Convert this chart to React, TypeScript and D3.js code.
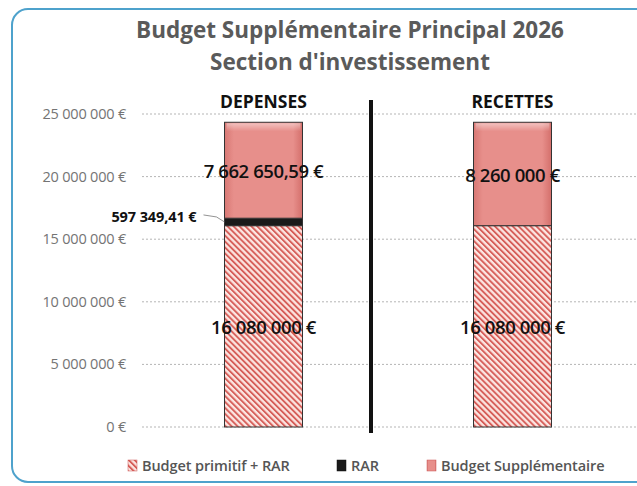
import React from "react";
import * as d3 from "d3";

const categories = ["DEPENSES", "RECETTES"];
const seriesNames = ["Budget primitif + RAR", "RAR", "Budget Supplémentaire"];
const budgetPrimitif = [16080000, 16080000];
const rar = [597349.41, 0];
const budgetSupp = [7662650.59, 8260000];
const valueLabels = [
  ["16 080 000 €", "597 349,41 €", "7 662 650,59 €"],
  ["16 080 000 €", "", "8 260 000 €"],
];
const yTicks = [0, 5000000, 10000000, 15000000, 20000000, 25000000];
const yTickLabels = ["0 €", "5 000 000 €", "10 000 000 €", "15 000 000 €", "20 000 000 €", "25 000 000 €"];
const titleLines = ["Budget Supplémentaire Principal 2026", "Section d'investissement"];

const W = 637;
const H = 486;
const FONT = "'Open Sans', 'DejaVu Sans', sans-serif";

export default function App() {
  const y = d3.scaleLinear().domain([0, 25000000]).range([427, 114]);
  const x = d3.scaleBand().domain(categories).range([139, 637]).padding(0);
  const barW = 78;
  const seriesData = [budgetPrimitif, rar, budgetSupp];

  const stacked = categories.map((c, i) => {
    let acc = 0;
    return seriesData.map((s, k) => {
      const y0 = acc;
      acc += s[i];
      return { k, y0, y1: acc, v: s[i] };
    });
  });

  const fills = ["url(#hatch)", "#1a1a1a", "url(#bsGrad)"];
  const legendX = [128, 337, 427];

  return (
    <svg width={W} height={H} style={{ position: "absolute", left: 0, top: 0, background: "#fff" }}>
      <defs>
        <pattern id="hatch" patternUnits="userSpaceOnUse" width="4.2" height="4.2" patternTransform="rotate(-45)">
          <rect width="4.2" height="4.2" fill="#fce6e2" />
          <rect width="1.9" height="4.2" fill="#d65e59" />
        </pattern>
        <linearGradient id="bsGrad" x1="0" y1="0" x2="1" y2="0">
          <stop offset="0" stopColor="#d87874" />
          <stop offset="0.12" stopColor="#e78f8b" />
          <stop offset="0.88" stopColor="#e78f8b" />
          <stop offset="1" stopColor="#d46f6b" />
        </linearGradient>
        <linearGradient id="bsTop" x1="0" y1="0" x2="0" y2="1">
          <stop offset="0" stopColor="#fff" stopOpacity="0.45" />
          <stop offset="1" stopColor="#fff" stopOpacity="0" />
        </linearGradient>
      </defs>
      <rect x={1} y={1} width={W - 2} height={H - 2} fill="#fff" />
      <rect x={12} y={9} width={W + 20} height={473} rx={16} ry={16} fill="none" stroke="#4ea2cc" strokeWidth={2} />

      {titleLines.map((t, i) => (
        <text key={t} x={350} y={38 + i * 32} textAnchor="middle" fontFamily={FONT} fontWeight={700} fontSize={22.5} fill="#5a5a5a">
          {t}
        </text>
      ))}

      {yTicks.map((t, i) => (
        <g key={t}>
          <line x1={142} x2={637} y1={y(t)} y2={y(t)} stroke="#b5b5b5" strokeWidth={1} strokeDasharray="2,2" />
          <text x={126} y={y(t) + 5} textAnchor="end" fontFamily={FONT} fontSize={14.5} fill="#747474" letterSpacing={-0.2}>
            {yTickLabels[i]}
          </text>
        </g>
      ))}

      {categories.map((c, i) => {
        const cx = (x(c) as number) + x.bandwidth() / 2;
        const x0 = cx - barW / 2;
        return (
          <g key={c}>
            <text x={cx} y={108} textAnchor="middle" fontFamily={FONT} fontWeight={700} fontSize={17.5} fill="#111">
              {c}
            </text>
            {stacked[i].map((s) =>
              s.v > 0 ? (
                <g key={s.k}>
                  <rect x={x0} y={y(s.y1)} width={barW} height={y(s.y0) - y(s.y1)} fill={fills[s.k]} stroke="#333" strokeWidth={1} />
                  {s.k === 2 && (
                    <rect x={x0 + 2} y={y(s.y1) + 1} width={barW - 4} height={8} fill="url(#bsTop)" />
                  )}
                </g>
              ) : null
            )}
            {stacked[i].map((s) => {
              const lab = valueLabels[i][s.k];
              if (!lab || s.v <= 0) return null;
              const ym = (y(s.y0) + y(s.y1)) / 2;
              if (s.k === 1) {
                return (
                  <g key={"l" + s.k}>
                    <path d={`M${x0 - 21},${ym - 7} L${x0 - 8},${ym - 5} L${x0},${ym}`} fill="none" stroke="#777" strokeWidth={0.8} />
                    <text x={x0 - 28} y={ym} textAnchor="end" fontFamily={FONT} fontWeight={700} fontSize={14.5} fill="#111" letterSpacing={-0.1}>
                      {lab}
                    </text>
                  </g>
                );
              }
              return (
                <text key={"l" + s.k} x={cx} y={ym + 8} textAnchor="middle" fontFamily={FONT} fontWeight={600} fontSize={18.5} fill="#111" letterSpacing={-0.4}>
                  {lab}
                </text>
              );
            })}
          </g>
        );
      })}

      <line x1={371} x2={371} y1={100} y2={433} stroke="#111" strokeWidth={4} />

      {seriesNames.map((n, i) => {
        const xs = legendX[i];
        return (
          <g key={n}>
            <rect x={xs} y={460} width={9} height={11} fill={fills[i]} stroke={i === 1 ? "#111" : "#c55"} strokeWidth={0.5} />
            <text x={xs + 14} y={471} fontFamily={FONT} fontWeight={600} fontSize={14.5} fill="#555" letterSpacing={-0.1}>
              {n}
            </text>
          </g>
        );
      })}
    </svg>
  );
}
